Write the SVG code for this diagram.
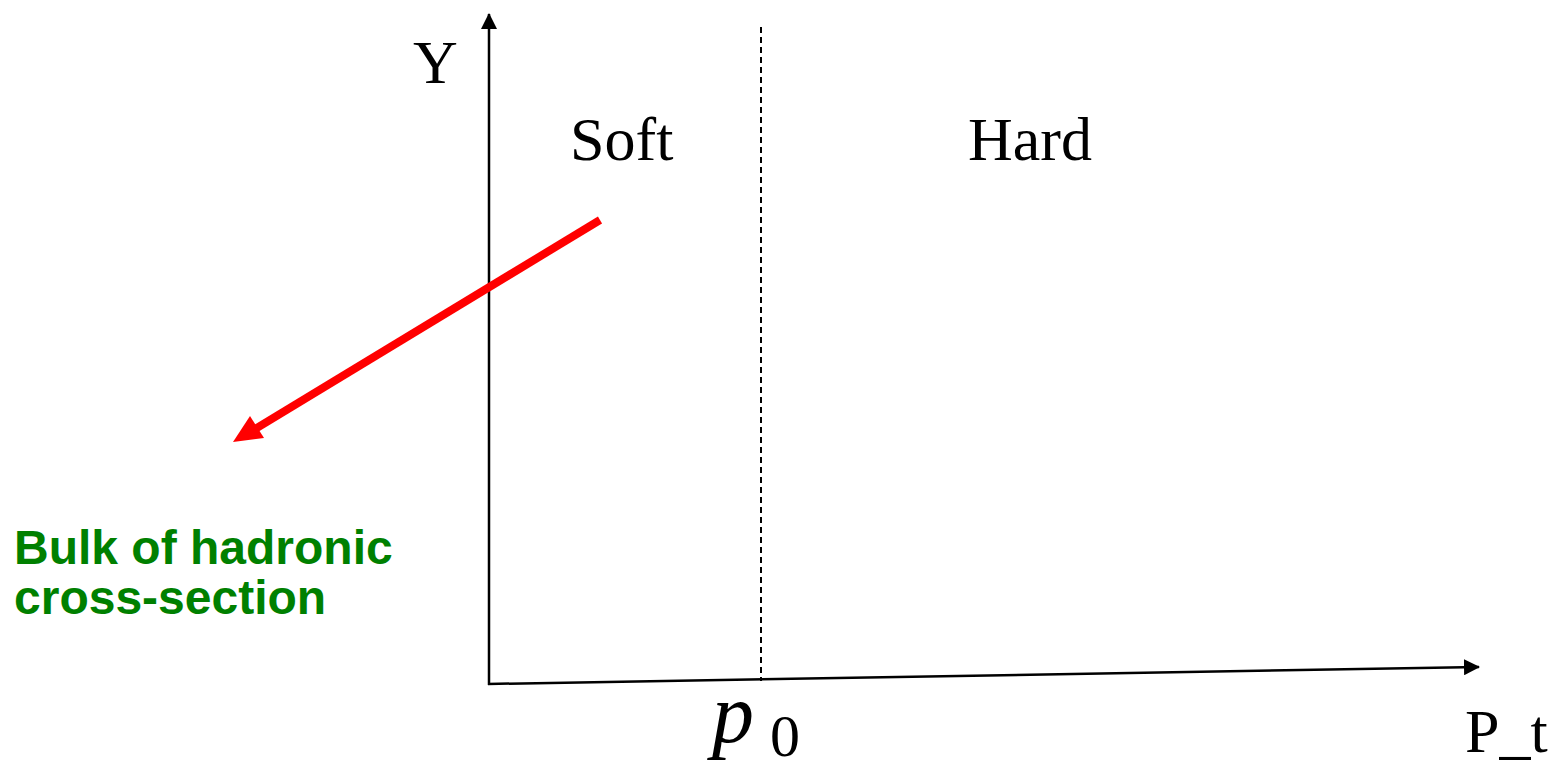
<svg xmlns="http://www.w3.org/2000/svg" width="1556" height="766" viewBox="0 0 1556 766">
<style>
.serif{font-family:"Liberation Serif","Times New Roman",serif;font-size:62px;fill:#000}
.green{font-family:"Liberation Sans",Arial,sans-serif;font-size:48px;font-weight:bold;fill:#008000}
.axis{stroke:#000;stroke-width:2.5;fill:none}
</style>
<defs>
<marker id="ah" markerWidth="16" markerHeight="16" viewBox="0 0 16 16" refX="15" refY="8" orient="auto" markerUnits="userSpaceOnUse">
<path d="M0,0 L16,8 L0,16 Z" fill="#000"/>
</marker>
</defs>
<rect width="1556" height="766" fill="#fff"/>
<g id="connectors">
<line id="y-axis" class="axis" x1="489" y1="685" x2="489" y2="14" marker-end="url(#ah)"/>
<line id="x-axis" class="axis" x1="488" y1="684" x2="1479" y2="667" marker-end="url(#ah)"/>
<line id="p0-line" x1="761" y1="27" x2="761" y2="681" stroke="#000" stroke-width="2" stroke-dasharray="6,4"/>
<g id="red-arrow">
<line x1="600" y1="220" x2="255" y2="429" stroke="#ff0000" stroke-width="8"/>
<polygon points="233,442 264,438 250,416" fill="#ff0000"/>
</g>
</g>
<g id="label-Y"><text class="serif" x="413" y="83">Y</text></g>
<g id="label-soft"><text class="serif" x="570" y="160">Soft</text></g>
<g id="label-hard"><text class="serif" x="968" y="160" font-size="63">Hard</text></g>
<g id="label-pt"><text class="serif" x="1465" y="752">P_t</text></g>
<g id="label-p0"><text x="712" y="742" font-family="'Liberation Serif','Times New Roman',serif" font-style="italic" font-size="84">p</text><text x="770" y="756" font-family="'Liberation Serif','Times New Roman',serif" font-size="60">0</text></g>
<g id="label-bulk"><text class="green" x="14" y="564">Bulk of hadronic</text><text class="green" x="14" y="614">cross-section</text></g>
</svg>
